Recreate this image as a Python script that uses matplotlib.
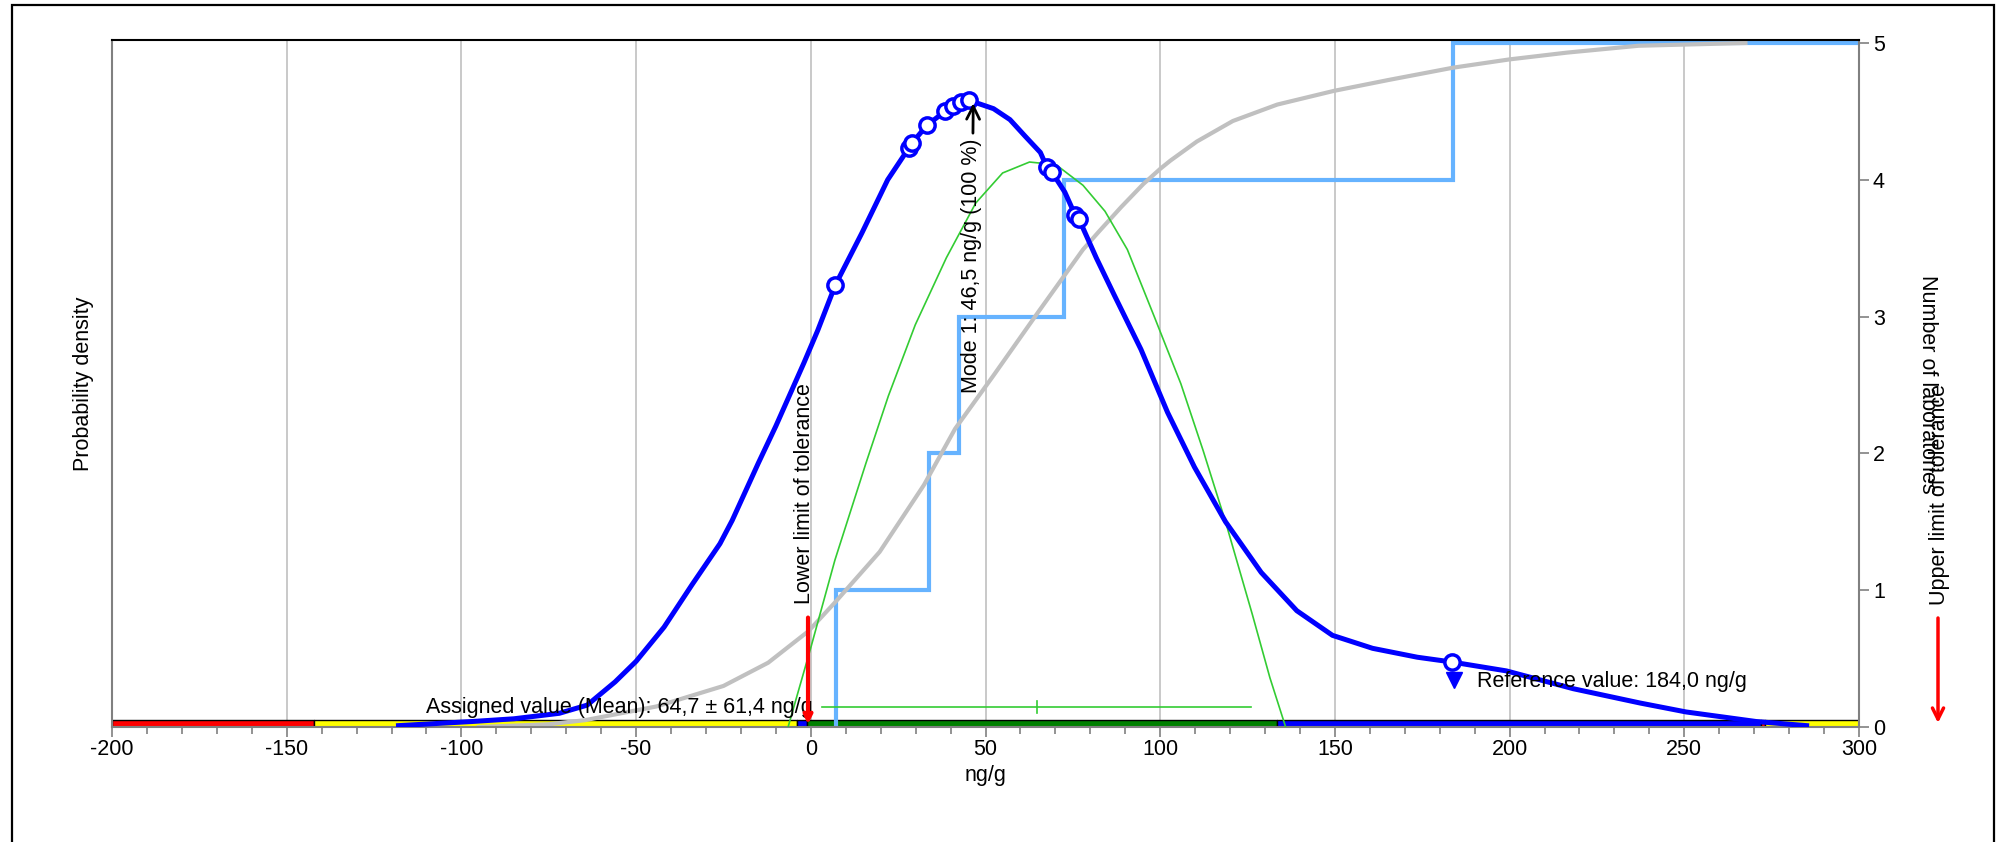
import numpy as np
import matplotlib
matplotlib.use("Agg")
import matplotlib.pyplot as plt
from matplotlib.patches import Rectangle

plt.rcParams['font.family'] = ['Liberation Sans', 'DejaVu Sans']
FS = 15.5

# ---------------- data ----------------
# kernel density (scaled to the right axis units)
kde_x = [-118, -97, -85, -72, -64, -56, -50, -42, -34, -26, -22.5, -15, -10, -2, 2, 7,
         14.6, 22, 28, 29, 33.3, 38.4, 40.7, 43, 45.4, 52.3, 57.0, 61.3, 65.7, 67.6, 68.9, 72.7,
         75.7, 76.8, 81.7, 86.8, 94.5, 102.1, 109.8, 118.7, 128.9, 139.1, 149.3, 160.8,
         173.6, 183.5, 199.1, 218.2, 237.4, 250.5, 270.6, 285]
kde_y = [0.01, 0.04, 0.06, 0.10, 0.16, 0.33, 0.48, 0.73, 1.04, 1.34, 1.51, 1.93, 2.20,
         2.66, 2.90, 3.23, 3.61, 4.00, 4.23, 4.27, 4.40, 4.50, 4.54, 4.57, 4.58, 4.52, 4.44,
         4.32, 4.20, 4.09, 4.06, 3.91, 3.74, 3.71, 3.43, 3.16, 2.76, 2.30, 1.90, 1.50,
         1.13, 0.85, 0.67, 0.575, 0.51, 0.475, 0.41, 0.28, 0.175, 0.11, 0.04, 0.01]

# individual results marked on the density curve
pts_x = [6.9, 28.0, 28.9, 33.3, 38.4, 40.7, 43.0, 45.4, 67.6, 68.9, 75.7, 76.8, 183.5]
pts_y = [3.23, 4.23, 4.27, 4.40, 4.50, 4.54, 4.57, 4.58, 4.09, 4.06, 3.74, 3.71, 0.475]

# cumulative distribution (scaled 0..5)
cdf_x = [-95, -75, -64.6, -44.2, -25, -12.2, -0.7, 6.9, 19.7, 32.4, 41.3, 52.3, 65,
         77.9, 82.4, 88.8, 95.2, 100.0, 102.9, 110.5, 120.8, 133.5, 149.7, 165.4, 183.9,
         199.9, 216.5, 236.9, 267.5]
cdf_y = [0.0, 0.02, 0.05, 0.15, 0.30, 0.47, 0.70, 0.91, 1.28, 1.77, 2.18, 2.57, 3.03,
         3.49, 3.62, 3.80, 3.97, 4.08, 4.14, 4.28, 4.43, 4.55, 4.65, 4.73, 4.82,
         4.88, 4.93, 4.98, 5.0]

# normal curve (assigned value)
norm_x = [-6.5, 0.0, 6.9, 15.8, 22.2, 29.9, 38.8, 47.2, 54.9, 62.6, 70.2, 77.9, 84.2,
          90.6, 98.3, 105.9, 112.3, 118.7, 126.4, 131.4, 135.9]
norm_y = [0.0, 0.58, 1.22, 1.93, 2.42, 2.94, 3.43, 3.83, 4.05, 4.13, 4.11, 3.96, 3.77,
          3.49, 3.00, 2.51, 2.02, 1.50, 0.82, 0.36, 0.0]

# laboratory means (number of laboratories step)
lab_values = [7.3, 33.7, 42.3, 72.5, 183.8]
lab_counts = [1, 2, 3, 4, 5]

assigned_value = 64.7
assigned_unc = 61.4
mode_value = 46.5
reference_value = 184.0
lower_limit = -0.8

# tolerance zones along the bottom
zone_edges = [-200, -142.2, -4.0, -1.0, 133.4, 272.0, 273.0, 300]
zone_colors = ['#FF0000', '#FFFF00', '#0000FF', '#008000', '#0000FF', '#FF0000', '#FFFF00']

x_ticks = [-200, -150, -100, -50, 0, 50, 100, 150, 200, 250, 300]
y_ticks = [0, 1, 2, 3, 4, 5]

# ---------------- figure ----------------
W, H = 2002, 842
def fx(px): return px / W
def fy(py): return 1 - py / H

fig = plt.figure(figsize=(W / 100, H / 100), dpi=100)
fig.patches.append(Rectangle((fx(12), -0.01), fx(1994) - fx(12), fy(5) + 0.01,
                             transform=fig.transFigure, fill=False, edgecolor='black',
                             linewidth=1.6, zorder=0))

ax = fig.add_axes([fx(112), fy(727), fx(1859) - fx(112), fy(40) - fy(727)])
ax.set_xlim(-200, 300)
ax.set_ylim(0, 5.022)

# grid
for xv in x_ticks:
    ax.axvline(xv, color='#C0C0C0', lw=1.2, zorder=0.5)

# tolerance band
segs = [(zone_edges[i], zone_edges[i + 1] - zone_edges[i]) for i in range(len(zone_colors))]
ax.broken_barh(segs, (0, 0.05), facecolors=zone_colors, edgecolor='black', linewidth=1.0,
               zorder=1.5)

# step of lab counts
sx = [lab_values[0]] + lab_values + [300]
sy = [0] + lab_counts + [lab_counts[-1]]
ax.step(sx, sy, where='post', color='#66B3FF', lw=3.0, zorder=2, solid_joinstyle='miter')

# cumulative
ax.plot(cdf_x, cdf_y, color='#C0C0C0', lw=3.0, zorder=2.5)

# normal curve
ax.plot(norm_x, norm_y, color='#33CC33', lw=1.2, zorder=3)

# density
ax.plot(kde_x, kde_y, color='#0000FF', lw=3.6, zorder=4, solid_joinstyle='round')
ax.plot(pts_x, pts_y, 'o', ms=11, mfc='white', mec='#0000FF', mew=2.5, zorder=5)

# assigned value with uncertainty
ax.plot([assigned_value - assigned_unc, assigned_value + assigned_unc], [0.146, 0.146],
        color='#33CC33', lw=1.2, zorder=3)
ax.plot([assigned_value, assigned_value], [0.10, 0.19], color='#33CC33', lw=1.2, zorder=3)
ax.text(0.5, 0.146, 'Assigned value (Mean): 64,7 \u00b1 61,4 ng/g', ha='right', va='center',
        fontsize=FS, zorder=6)

# reference value
ax.plot([reference_value], [0.34], 'v', color='#0000FF', ms=12, zorder=5)
ax.text(reference_value + 6.8, 0.33, 'Reference value: 184,0 ng/g', ha='left', va='center',
        fontsize=FS, zorder=6)

# mode annotation
ax.annotate('Mode 1: 46,5 ng/g (100 %)', xy=(mode_value, 4.56), xytext=(mode_value - 0.5, 2.44),
            rotation=90, ha='center', va='bottom', fontsize=FS, zorder=6,
            arrowprops=dict(arrowstyle='->, head_width=0.3, head_length=0.6', color='black',
                            lw=2, shrinkA=2, shrinkB=0))

# lower limit of tolerance
ax.annotate('', xy=(lower_limit, 0.02), xytext=(lower_limit, 0.80), zorder=6,
            arrowprops=dict(arrowstyle='->, head_width=0.25, head_length=0.5', color='#FF0000',
                            lw=3, shrinkA=0, shrinkB=0))
ax.text(-1.9, 0.9, 'Lower limit of tolerance', rotation=90, ha='center', va='bottom',
        fontsize=FS, zorder=6)

# axes styling
for side in ['left', 'bottom', 'right']:
    ax.spines[side].set_color('#808080')
    ax.spines[side].set_linewidth(1.5)
ax.spines['top'].set_color('black')
ax.spines['top'].set_linewidth(1.5)

ax.set_xticks(x_ticks)
ax.set_xticklabels([str(v) for v in x_ticks])
ax.set_xticks(np.arange(-200, 301, 10), minor=True)
ax.tick_params(axis='x', which='major', direction='out', length=7, width=1.2, color='#808080',
               labelsize=FS, pad=1.5)
ax.tick_params(axis='x', which='minor', direction='out', length=5, width=1.2, color='#808080')

ax.yaxis.tick_right()
ax.set_yticks(y_ticks)
ax.set_yticklabels([str(v) for v in y_ticks])
ax.tick_params(axis='y', which='major', direction='out', length=7, width=1.2, color='#808080',
               labelsize=FS, pad=3)

fig.text(fx(985), fy(776), 'ng/g', ha='center', va='center', fontsize=FS)
fig.text(fx(84), fy(384), 'Probability density', rotation=90, ha='center', va='center',
         fontsize=FS)
fig.text(fx(1927), fy(384), 'Number of laboratories', rotation=270, ha='center', va='center',
         fontsize=FS)
fig.text(fx(1940), fy(605), 'Upper limit of tolerance', rotation=90, ha='center', va='bottom',
         fontsize=FS)
ax.annotate('', xy=(fx(1938), fy(723)), xytext=(fx(1938), fy(618)), xycoords='figure fraction',
            textcoords='figure fraction', annotation_clip=False,
            arrowprops=dict(arrowstyle='->, head_width=0.4, head_length=0.8', color='#FF0000',
                            lw=2.5, shrinkA=0, shrinkB=0))

fig.savefig('out.png', dpi=100)
